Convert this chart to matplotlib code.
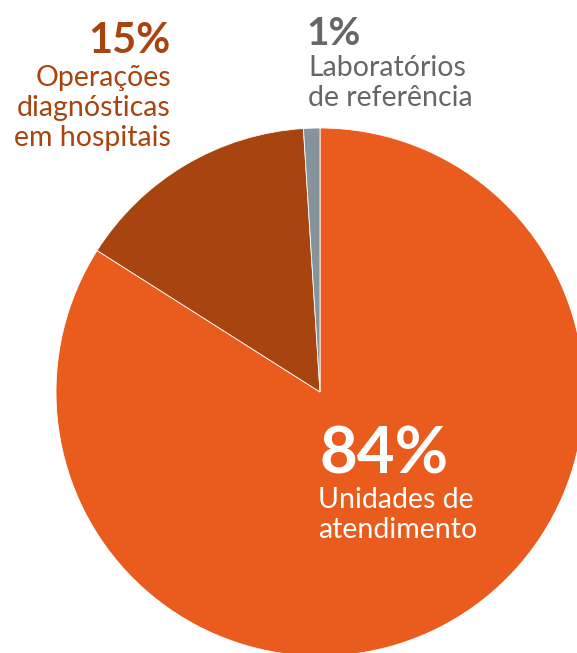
import matplotlib

matplotlib.use("Agg")

import matplotlib.pyplot as plt

plt.rcParams["font.family"] = ["Lato", "DejaVu Sans"]

# share of sites by type
labels = ["Unidades de\natendimento", "Operações\ndiagnósticas\nem hospitais", "Laboratórios\nde referência"]
shares = [84, 15, 1]
colors = ["#EA5B1E", "#A8440F", "#85939C"]

W, H = 577, 653
fig = plt.figure(figsize=(W / 100, H / 100), dpi=100)
ax = fig.add_axes([0, 0, 1, 1])

ax.pie(
    shares,
    colors=colors,
    startangle=90,
    counterclock=False,
    center=(320, H - 392),
    radius=264,
    wedgeprops=dict(linewidth=0.6, edgecolor="white"),
    frame=True,
)
ax.set_xlim(0, W)
ax.set_ylim(0, H)
ax.set_aspect("equal")
ax.set_axis_off()


def y(px):
    return H - px


# 84% label inside big slice
ax.text(320, y(473), f"{shares[0]}%", color="white", fontsize=47, fontweight="bold",
        ha="left", va="baseline")
ax.text(318, y(538), labels[0], color="white", fontsize=20.5,
        ha="left", va="baseline", linespacing=1.18)

# 15% label, top left
ax.text(171, y(53), f"{shares[1]}%", color=colors[1], fontsize=30, fontweight="bold",
        ha="right", va="baseline")
ax.text(171, y(146), labels[1], color=colors[1], fontsize=20.5,
        ha="right", va="baseline", multialignment="right", linespacing=1.18)

# 1% label, top
ax.text(306, y(45), f"{shares[2]}%", color="#666666", fontsize=28, fontweight="bold",
        ha="left", va="baseline")
ax.text(308, y(106), labels[2], color="#666666", fontsize=20.5,
        ha="left", va="baseline", linespacing=1.18)

fig.savefig("out.png", dpi=100)
plt.close(fig)
